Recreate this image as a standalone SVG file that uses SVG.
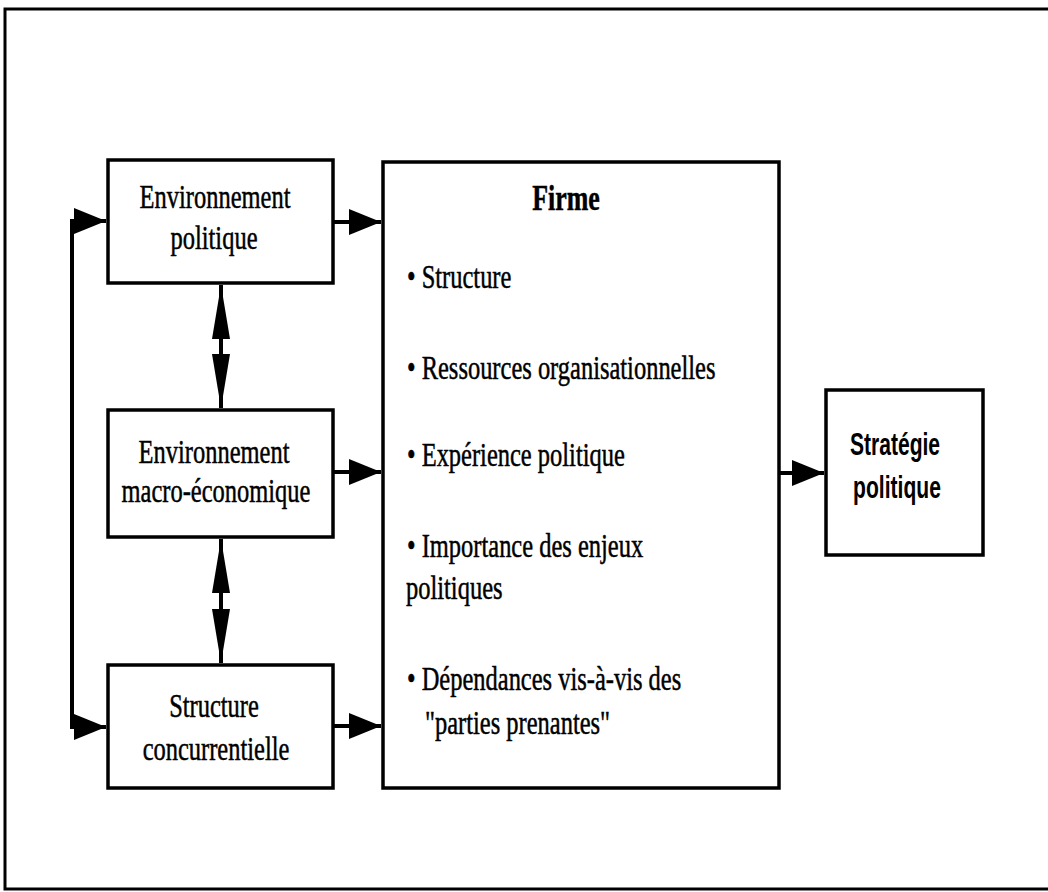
<svg xmlns="http://www.w3.org/2000/svg" width="1048" height="892" viewBox="0 0 1048 892">
<style>
.box{fill:#fff;stroke:#000;stroke-width:3.5}
.t{font-family:"Liberation Serif",serif;font-size:34px;fill:#000;stroke:#000;stroke-width:0.5}
.c{text-anchor:middle}
.b{font-weight:bold}
.s{font-family:"Liberation Sans",sans-serif;font-size:31px;font-weight:bold;fill:#000;text-anchor:middle}
.ln{fill:none;stroke:#000;stroke-width:4}
</style>
<defs>
<marker id="ah" markerUnits="userSpaceOnUse" markerWidth="32" markerHeight="26" refX="32" refY="13" orient="auto-start-reverse">
<path d="M0,0 L32,13 L0,26 Z" fill="#000"/>
</marker>
<marker id="av" markerUnits="userSpaceOnUse" markerWidth="54" markerHeight="18" refX="54" refY="9" orient="auto-start-reverse">
<path d="M0,0 L54,9 L0,18 Z" fill="#000"/>
</marker>
</defs>
<rect width="1048" height="892" fill="#fff"/>
<path d="M1048,9 H5 V889 H1048" fill="none" stroke="#000" stroke-width="3"/>

<g id="connectors">
<path class="ln" d="M106,221 H72 V727 H106" marker-start="url(#ah)" marker-end="url(#ah)"/>
<path class="ln" d="M333,222 H381" marker-end="url(#ah)"/>
<path class="ln" d="M333,472 H381" marker-end="url(#ah)"/>
<path class="ln" d="M333,726 H381" marker-end="url(#ah)"/>
<path class="ln" d="M779,473 H824" marker-end="url(#ah)"/>
<path class="ln" d="M221,285 V408" marker-start="url(#av)" marker-end="url(#av)"/>
<path class="ln" d="M221,539 V663" marker-start="url(#av)" marker-end="url(#av)"/>
</g>

<g id="env-politique">
<rect class="box" x="108" y="160" width="225" height="123"/>
<text class="t c" transform="translate(215,208) scale(0.72,1)">Environnement</text>
<text class="t c" transform="translate(214,249) scale(0.72,1)">politique</text>
</g>

<g id="env-macro">
<rect class="box" x="108" y="410" width="225" height="127"/>
<text class="t c" transform="translate(214,463) scale(0.72,1)">Environnement</text>
<text class="t c" transform="translate(216,502) scale(0.72,1)">macro-économique</text>
</g>

<g id="structure-concurrentielle">
<rect class="box" x="108" y="665" width="225" height="123"/>
<text class="t c" transform="translate(214,717) scale(0.72,1)">Structure</text>
<text class="t c" transform="translate(216,760) scale(0.72,1)">concurrentielle</text>
</g>

<g id="firme">
<rect class="box" x="383" y="162" width="396" height="626"/>
<text class="t c b" transform="translate(566,210) scale(0.72,1)" style="font-size:36px">Firme</text>
<text class="t" transform="translate(407,288) scale(0.72,1)">• Structure</text>
<text class="t" transform="translate(407,379) scale(0.72,1)">• Ressources organisationnelles</text>
<text class="t" transform="translate(407,466) scale(0.72,1)">• Expérience politique</text>
<text class="t" transform="translate(407,557) scale(0.72,1)">• Importance des enjeux</text>
<text class="t" transform="translate(406,599) scale(0.72,1)">politiques</text>
<text class="t" transform="translate(407,690) scale(0.72,1)">• Dépendances vis-à-vis des</text>
<text class="t" transform="translate(425,734) scale(0.72,1)">"parties prenantes"</text>
</g>

<g id="strategie">
<rect class="box" x="826" y="390" width="157" height="165"/>
<text class="s" transform="translate(895,455) scale(0.68,1)">Stratégie</text>
<text class="s" transform="translate(897,498) scale(0.68,1)">politique</text>
</g>
</svg>
